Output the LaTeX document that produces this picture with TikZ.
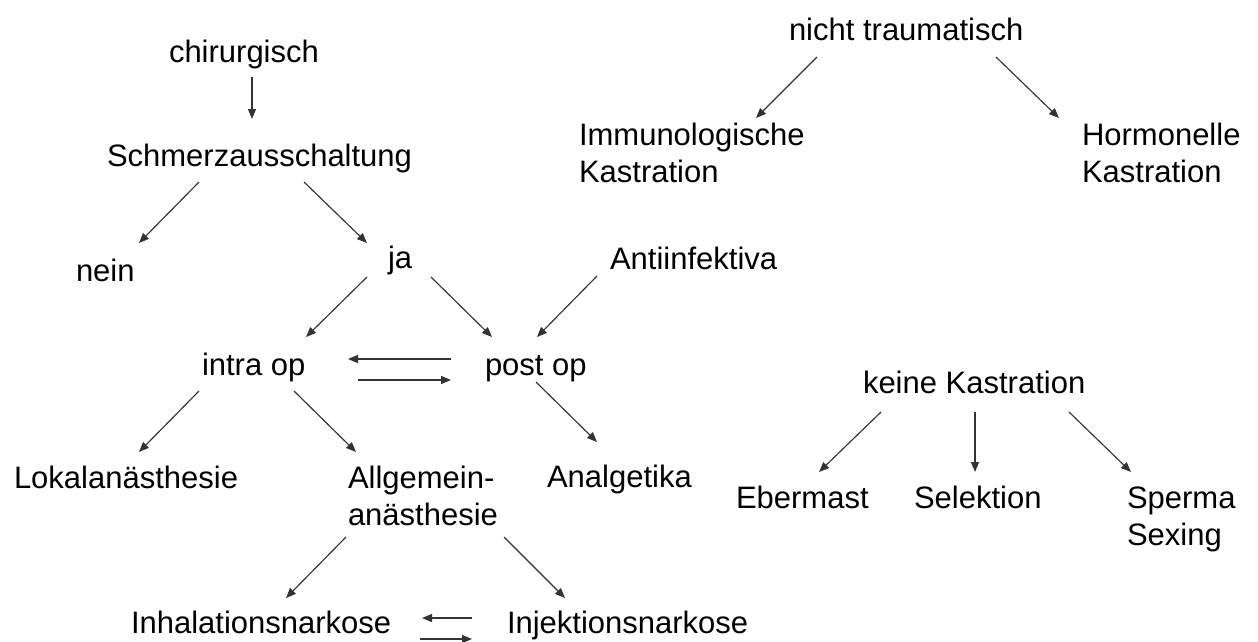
\documentclass[tikz,border=0pt]{standalone}
\usepackage{fontspec}
\setmainfont{Liberation Sans}
\usetikzlibrary{arrows.meta,calc}

\tikzset{
  lbl/.style={anchor=base west, inner sep=0pt, outer sep=0pt, text=black,
    font=\fontsize{31}{37}\selectfont},
  arr/.style={draw=black!80, line width=1.15pt,
    -{Triangle[length=10pt,width=8pt]}},
}
\newcommand{\twoline}[2]{\begin{tabular}[t]{@{}l@{}}#1\\#2\end{tabular}}

\begin{document}
\begin{tikzpicture}[x=1pt,y=-1pt]
  \fill[white] (0,0) rectangle (1258,641);
  \useasboundingbox (0,0) rectangle (1258,641);
  \renewcommand{\arraystretch}{1}

  % left tree: surgical castration
  \node[lbl] (chir)   at (169,62)  {chirurgisch};
  \node[lbl] (schmerz) at (107,166) {Schmerzausschaltung};
  \node[lbl] (nein)   at (76,281)  {nein};
  \node[lbl] (ja)     at (388,268) {ja};
  \node[lbl] (anti)   at (610,269) {Antiinfektiva};
  \node[lbl] (intra)  at (202,375) {intra op};
  \node[lbl] (post)   at (485,375) {post op};
  \node[lbl] (lokal)  at (14,488)  {Lokalanästhesie};
  \node[lbl] (allg)   at (348,488) {\fontsize{31}{37}\selectfont\twoline{Allgemein-}{anästhesie}};
  \node[lbl] (analg)  at (547,487) {Analgetika};
  \node[lbl] (inhal)  at (131,633) {Inhalationsnarkose};
  \node[lbl] (injek)  at (507,633) {Injektionsnarkose};

  % right trees
  \node[lbl] (nicht)  at (789,40)  {nicht traumatisch};
  \node[lbl] (immun)  at (579,145) {\fontsize{31}{37}\selectfont\twoline{Immunologische}{Kastration}};
  \node[lbl] (hormon) at (1082,145) {\fontsize{31}{37}\selectfont\twoline{Hormonelle}{Kastration}};
  \node[lbl] (keine)  at (863,393) {keine Kastration};
  \node[lbl] (eber)   at (736,508) {Ebermast};
  \node[lbl] (selek)  at (914,508) {Selektion};
  \node[lbl] (sperma) at (1127,508) {\fontsize{31}{37}\selectfont\twoline{Sperma}{Sexing}};

  % connectors
  \draw[arr] ($(chir.base west)+(83,15)$)     -- ($(schmerz.base west)+(145,-47)$);
  \draw[arr] ($(schmerz.base west)+(92,16)$)  -- ($(nein.base west)+(63,-38)$);
  \draw[arr] ($(schmerz.base west)+(197,16)$) -- ($(ja.base west)+(-21,-25)$);
  \draw[arr] ($(ja.base west)+(-21,9)$)       -- ($(intra.base west)+(104,-38)$);
  \draw[arr] ($(ja.base west)+(43,9)$)        -- ($(post.base west)+(7,-38)$);
  \draw[arr] ($(anti.base west)+(-13,7)$)     -- ($(post.base west)+(52,-38)$);
  \draw[arr] ($(post.base west)+(-34,-16)$)   -- ($(intra.base west)+(146,-16)$);
  \draw[arr] ($(intra.base west)+(156,5)$)    -- ($(post.base west)+(-34,5)$);
  \draw[arr] ($(intra.base west)+(-3,16)$)    -- ($(lokal.base west)+(125,-36)$);
  \draw[arr] ($(intra.base west)+(92,16)$)    -- ($(allg.base west)+(8,-36)$);
  \draw[arr] ($(post.base west)+(51,7)$)      -- ($(analg.base west)+(50,-45)$);
  \draw[arr] ($(allg.base west)+(-2,49)$)     -- ($(inhal.base west)+(155,-35)$);
  \draw[arr] ($(allg.base west)+(156,49)$)    -- ($(injek.base west)+(58,-35)$);
  \draw[arr] ($(injek.base west)+(-35,-15)$)  -- ($(inhal.base west)+(291,-15)$);
  \draw[arr] ($(inhal.base west)+(289,6)$)    -- ($(injek.base west)+(-35,6)$);

  \draw[arr] ($(nicht.base west)+(28,17)$)    -- ($(immun.base west)+(177,-27)$);
  \draw[arr] ($(nicht.base west)+(207,17)$)   -- ($(hormon.base west)+(-23,-27)$);
  \draw[arr] ($(keine.base west)+(18,19)$)    -- ($(eber.base west)+(83,-36)$);
  \draw[arr] ($(keine.base west)+(112,19)$)   -- ($(selek.base west)+(61,-36)$);
  \draw[arr] ($(keine.base west)+(206,19)$)   -- ($(sperma.base west)+(4,-36)$);
\end{tikzpicture}
\end{document}
